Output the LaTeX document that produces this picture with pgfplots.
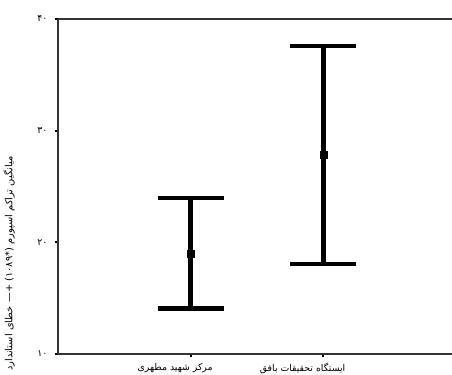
\documentclass[border=0pt]{standalone}
\usepackage{fontspec}
\usepackage{pgfplots}
\pgfplotsset{compat=1.18}
\usetikzlibrary{calc}
\TeXXeTstate=1
\newfontfamily\arabicfont[Script=Arabic]{DejaVu Sans}
\begin{document}
\begin{tikzpicture}
\begin{axis}[
  scale only axis, width=295.5pt, height=251.25pt,
  xmin=0, xmax=2.97, ymin=10, ymax=40,
  axis x line=box, axis y line=left,
  axis line style={-, black!80, line width=0.9pt},
  xtick={1,2}, xtick pos=left, ytick={10,20,30,40}, ytick pos=left,
  xticklabels={{\beginR مرکز شهید مطهری\endR},{\beginR ایستگاه تحقیقات بافق\endR}},
  yticklabels={۱۰,۲۰,۳۰,۴۰},
  tick align=outside, major tick length=2.5pt,
  tick style={black, line width=1.5pt},
  ticklabel style={font=\arabicfont\fontsize{7}{8}\selectfont},
  xticklabel style={anchor=north east, xshift=20pt, yshift=-1pt},
  yticklabel style={xshift=-2pt},
  ylabel={\beginR میانگین تراکم اسپورم (\beginL*۱۰۸۹\endL) +— خطای استاندارد\endR},
  ylabel style={at={(axis description cs:-0.124,0.27)}, anchor=center,
    font=\arabicfont\fontsize{7.4}{8}\selectfont},
]
\addplot[only marks, black, mark=square*, mark size=2.6pt,
  error bars/.cd, y dir=both, y explicit,
  error bar style={line width=3.4pt, black},
  error mark options={rotate=90, mark size=24.75pt, line width=3.2pt, black}]
  coordinates {
    (1,19.01) +- (0,4.93)
    (2,27.85) +- (0,9.76)
  };
\end{axis}
\pgfresetboundingbox
\path ($(current axis.south west)+(-43.5pt,-15pt)$) rectangle ($(current axis.north east)+(0pt,14.25pt)$);
\end{tikzpicture}
\end{document}
